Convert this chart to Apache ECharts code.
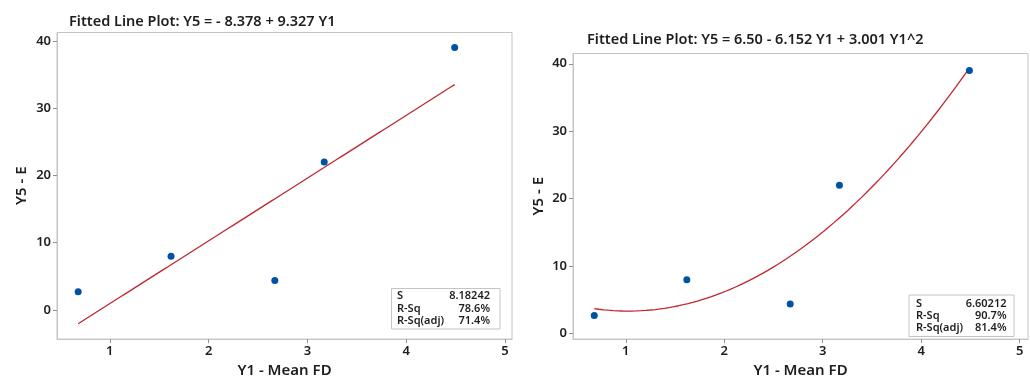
<!DOCTYPE html>
<html>
<head>
<meta charset="utf-8">
<script src="https://cdn.jsdelivr.net/npm/echarts@6/dist/echarts.min.js"></script>
<style>
html,body{margin:0;padding:0;background:#fff;}
#c{width:1030px;height:383px;}
</style>
</head>
<body>
<div id="c"></div>
<script>
// ---- data ----
const xVals = [0.68, 1.62, 2.67, 3.17, 4.49];
const yVals = [2.7, 8.0, 4.4, 22.0, 39.0];
const linCoef = [-8.378, 9.327];          // Y5 = -8.378 + 9.327 Y1
const quadCoef = [6.50, -6.152, 3.001];   // Y5 = 6.50 - 6.152 Y1 + 3.001 Y1^2
const xTicks = [1, 2, 3, 4, 5];
const yTicks = [0, 10, 20, 30, 40];
const titles = ['Fitted Line Plot: Y5 = - 8.378 + 9.327 Y1', 'Fitted Line Plot: Y5 = 6.50 - 6.152 Y1 + 3.001 Y1^2'];
const statNames = ['S', 'R-Sq', 'R-Sq(adj)'];
const statsLin = ['8.18242', '78.6%', '71.4%'];
const statsQuad = ['6.60212', '90.7%', '81.4%'];
const xName = 'Y1 - Mean FD';
const yName = 'Y5 - E';

// ---- build ----
const pts = xVals.map((x, i) => [x, yVals[i]]);
function poly(c, x) { let s = 0; for (let k = 0; k < c.length; k++) s += c[k] * Math.pow(x, k); return s; }
function fitLine(c) {
  const a = Math.min(...xVals), b = Math.max(...xVals), n = 80, out = [];
  for (let i = 0; i <= n; i++) { const x = a + (b - a) * i / n; out.push([x, poly(c, x)]); }
  return out;
}
const FONT = '"Noto Sans", "Open Sans", sans-serif';
const TXT = '#1e1e1e';
const FRAME = '#c4c4c4';
const BLUE = '#0052a5';
const RED = '#c0262d';

function xAxis(gi, gap) {
  return {
    type: 'value', gridIndex: gi, min: gi === 0 ? 0.466 : 0.464, max: gi === 0 ? 5.07 : 5.085,
    name: xName, nameLocation: 'middle', nameGap: gap,
    nameTextStyle: { fontFamily: FONT, fontSize: 15, fontWeight: 600, color: TXT },
    axisLine: { show: true, onZero: false, lineStyle: { color: FRAME } },
    axisTick: { show: true, length: 4, customValues: xTicks, lineStyle: { color: '#909090' } },
    axisLabel: { customValues: xTicks, margin: 6, fontFamily: FONT, fontSize: 13, fontWeight: 600, color: TXT },
    splitLine: { show: false }
  };
}
function yAxis(gi, mn, mx, gap) {
  return {
    type: 'value', gridIndex: gi, min: mn, max: mx,
    name: yName, nameLocation: 'middle', nameGap: gap, nameRotate: 90,
    nameTextStyle: { fontFamily: FONT, fontSize: 15, fontWeight: 600, color: TXT },
    axisLine: { show: true, onZero: false, lineStyle: { color: FRAME } },
    axisTick: { show: true, length: 4, customValues: yTicks, lineStyle: { color: '#909090' } },
    axisLabel: { customValues: yTicks, margin: 6, fontFamily: FONT, fontSize: 13, fontWeight: 600, color: TXT },
    splitLine: { show: false }
  };
}
function statsBox(x, y, w, h, lx, rx, ys, vals) {
  const ch = [{ type: 'rect', shape: { x: x, y: y, width: w, height: h }, style: { fill: '#fff', stroke: FRAME, lineWidth: 1 } }];
  const f = '600 11px ' + FONT;
  statNames.forEach((n, i) => {
    ch.push({ type: 'text', x: lx, y: ys[i], style: { text: n, fill: TXT, font: f, textVerticalAlign: 'middle', textAlign: 'left' } });
    ch.push({ type: 'text', x: rx, y: ys[i], style: { text: vals[i], fill: TXT, font: f, textVerticalAlign: 'middle', textAlign: 'right' } });
  });
  return { type: 'group', children: ch };
}

const chart = echarts.init(document.getElementById('c'), null, { renderer: 'canvas' });
chart.setOption({
  animation: false,
  backgroundColor: '#fff',
  title: [
    { text: titles[0], left: 64, top: 9, textStyle: { fontFamily: FONT, fontSize: 14.5, fontWeight: 600, color: TXT } },
    { text: titles[1], left: 582, top: 27, textStyle: { fontFamily: FONT, fontSize: 14.5, fontWeight: 600, color: TXT } }
  ],
  grid: [
    { left: 57, top: 32.5, width: 455, height: 313, show: true, borderColor: FRAME, borderWidth: 1, containLabel: false },
    { left: 573, top: 53.5, width: 455, height: 297, show: true, borderColor: FRAME, borderWidth: 1, containLabel: false }
  ],
  xAxis: [xAxis(0, 20), xAxis(1, 18)],
  yAxis: [yAxis(0, -4.32, 41.24, 28), yAxis(1, -0.81, 41.52, 27)],
  series: [
    { type: 'line', xAxisIndex: 0, yAxisIndex: 0, data: fitLine(linCoef), showSymbol: false, lineStyle: { color: RED, width: 1.3 }, z: 2 },
    { type: 'scatter', xAxisIndex: 0, yAxisIndex: 0, data: pts, symbolSize: 7, itemStyle: { color: BLUE, opacity: 1 }, z: 3 },
    { type: 'line', xAxisIndex: 1, yAxisIndex: 1, data: fitLine(quadCoef), showSymbol: false, smooth: false, lineStyle: { color: RED, width: 1.3 }, z: 2 },
    { type: 'scatter', xAxisIndex: 1, yAxisIndex: 1, data: pts, symbolSize: 7, itemStyle: { color: BLUE, opacity: 1 }, z: 3 }
  ],
  graphic: [
    statsBox(391.5, 288.5, 108.5, 40.5, 397, 490, [296, 308.5, 320.5], statsLin),
    statsBox(909, 295, 105, 41.5, 916, 1006.5, [304, 316, 327.5], statsQuad)
  ]
});
</script>
</body>
</html>
